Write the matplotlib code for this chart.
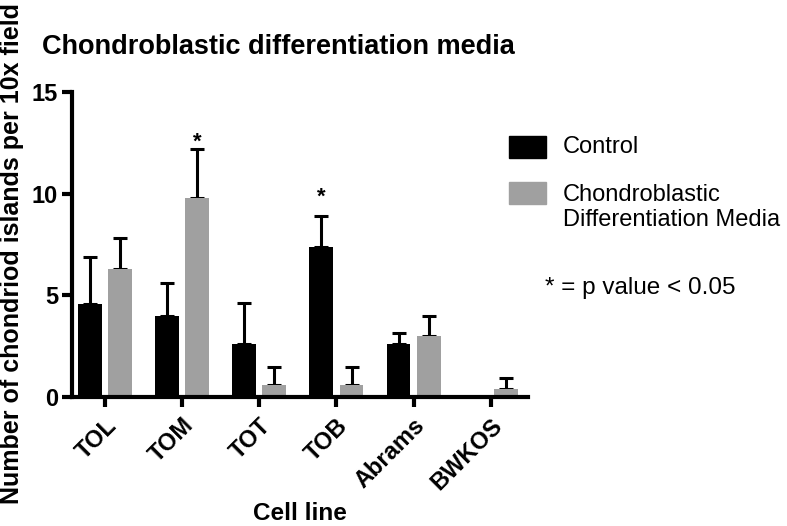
import numpy as np
import matplotlib
matplotlib.use("Agg")
import matplotlib.pyplot as plt
from matplotlib.patches import Rectangle

plt.rcParams['font.family'] = ['Liberation Sans', 'DejaVu Sans']

# data
cell_lines = ["TOL", "TOM", "TOT", "TOB", "Abrams", "BWKOS"]
control_mean = [4.6, 4.0, 2.6, 7.4, 2.6, 0.0]
control_err = [2.3, 1.6, 2.05, 1.5, 0.55, 0.0]
media_mean = [6.3, 9.8, 0.6, 0.6, 3.0, 0.4]
media_err = [1.5, 2.4, 0.9, 0.9, 1.0, 0.55]
# significance stars: (cell line index, group offset sign, y)
stars = [(1, 1, 12.55), (3, -1, 9.85)]

CONTROL_COL = "#000000"
MEDIA_COL = "#a0a0a0"

fig = plt.figure(figsize=(7.87, 5.26), dpi=100)
ax = fig.add_axes([0.0915, 0.245, 0.579, 0.58])

x = np.arange(len(cell_lines))
w = 0.31
off = 0.195

ax.bar(x - off, control_mean, w, color=CONTROL_COL, zorder=2)
ax.bar(x + off, media_mean, w, color=MEDIA_COL, zorder=2)

for xs, m, e in [(x - off, control_mean, control_err), (x + off, media_mean, media_err)]:
    m = np.array(m)
    e = np.array(e)
    keep = e > 0
    ax.errorbar(xs[keep], m[keep], yerr=[np.zeros(keep.sum()), e[keep]],
                fmt="none", ecolor="black", elinewidth=2.2, capsize=4.7,
                capthick=2.2, zorder=1)

for i, sgn, yv in stars:
    ax.text(x[i] + sgn * off, yv, "*", ha="center", va="center", fontsize=16,
            fontweight="bold")

ax.set_xlim(-0.43, 5.48)
ax.set_ylim(0, 15)
ax.set_yticks([0, 5, 10, 15])
ax.set_xticks(x)
ax.set_xticklabels(cell_lines, rotation=45, ha="right", rotation_mode="anchor",
                   fontsize=17, fontweight="bold")
for lab in ax.get_yticklabels():
    lab.set_fontsize(17)
    lab.set_fontweight("bold")

for s in ["top", "right"]:
    ax.spines[s].set_visible(False)
for s in ["left", "bottom"]:
    ax.spines[s].set_linewidth(3)
ax.tick_params(axis="both", width=3, length=7, pad=3)
ax.tick_params(axis="x", pad=5)

ax.set_xlabel("Cell line", fontsize=17.5, fontweight="bold")
ax.xaxis.set_label_coords(0.5, -0.345)
ax.set_ylabel("Number of chondriod islands per 10x field", fontsize=18,
              fontweight="bold")
ax.yaxis.set_label_coords(-0.105, 0.47)
fig.text(0.053, 0.897, "Chondroblastic differentiation media", fontsize=19.5,
         fontweight="bold", ha="left", va="baseline")

# legend drawn by hand so the grey patch sits on the first label line
fig.add_artist(Rectangle((0.647, 0.6996), 0.047, 0.0418, color=CONTROL_COL,
                         transform=fig.transFigure))
fig.add_artist(Rectangle((0.647, 0.612), 0.047, 0.0418, color=MEDIA_COL,
                         transform=fig.transFigure))
fig.text(0.7154, 0.7205, "Control", fontsize=17, ha="left", va="center")
fig.text(0.7154, 0.6055, "Chondroblastic\nDifferentiation Media", fontsize=17,
         ha="left", va="center", linespacing=1.2)
fig.text(0.693, 0.452, "* = p value < 0.05", fontsize=17.5, ha="left", va="center")

fig.savefig("out.png", dpi=100)
